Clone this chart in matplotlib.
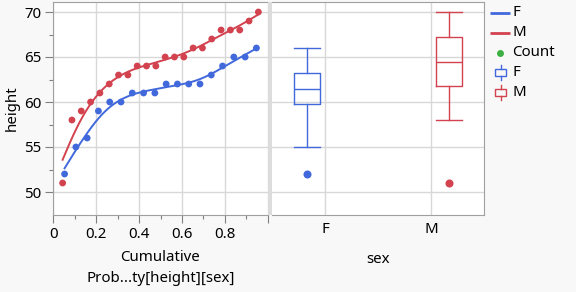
import numpy as np
import matplotlib
matplotlib.use("Agg")
import matplotlib.pyplot as plt
from matplotlib.patches import Rectangle

# ---------------- data ----------------
f_heights = [52, 55, 56, 59, 60, 60, 61, 61, 61, 62, 62, 62, 62, 63, 64, 65, 65, 66]
m_heights = [51, 58, 59, 60, 61, 62, 63, 63, 64, 64, 64, 65, 65, 65, 66, 66, 67, 68, 68, 68, 69, 70]
sexes = ["F", "M"]
x_ticks = [0, 0.2, 0.4, 0.6, 0.8]
x_ticklabels = ["0", "0.2", "0.4", "0.6", "0.8"]
y_ticks = [50, 55, 60, 65, 70]
legend_labels = ["F", "M", "Count", "F", "M"]

BLUE = "#4169dc"
RED = "#d2424f"
GREEN = "#3cb043"
GRID = "#d8d8d8"
FRAME = "#a0a0a0"
BG = "#f8f8f8"

plt.rcParams['font.family'] = ['Noto Sans', 'DejaVu Sans']
FS = 10.8


def cum_prob(vals):
    v = np.sort(np.asarray(vals, float))
    n = len(v)
    return np.arange(1, n + 1) / (n + 1), v


def smoothing_spline(x, y, lam, npts=200):
    x = np.asarray(x, float); y = np.asarray(y, float)
    n = len(x)
    h = np.diff(x)
    Q = np.zeros((n, n - 2))
    R = np.zeros((n - 2, n - 2))
    for j in range(1, n - 1):
        c = j - 1
        Q[j - 1, c] = 1 / h[j - 1]
        Q[j, c] = -1 / h[j - 1] - 1 / h[j]
        Q[j + 1, c] = 1 / h[j]
        R[c, c] = (h[j - 1] + h[j]) / 3
        if c + 1 < n - 2:
            R[c, c + 1] = h[j] / 6
            R[c + 1, c] = h[j] / 6
    K = Q @ np.linalg.solve(R, Q.T)
    g = np.linalg.solve(np.eye(n) + lam * K, y)
    gam_int = np.linalg.solve(R, Q.T @ g)
    gam = np.concatenate([[0], gam_int, [0]])
    t = np.linspace(x[0], x[-1], npts)
    idx = np.clip(np.searchsorted(x, t) - 1, 0, n - 2)
    xi, xi1 = x[idx], x[idx + 1]
    hi = h[idx]
    a = t - xi
    b = xi1 - t
    val = (a * g[idx + 1] + b * g[idx]) / hi - a * b / 6 * (
        (1 + a / hi) * gam[idx + 1] + (1 + b / hi) * gam[idx])
    return t, val


def box_stats(vals, label):
    v = np.sort(np.asarray(vals, float))
    q1, med, q3 = np.percentile(v, [25, 50, 75], method='weibull')
    iqr = q3 - q1
    lo_f, hi_f = q1 - 1.5 * iqr, q3 + 1.5 * iqr
    inside = v[(v >= lo_f) & (v <= hi_f)]
    fl = v[(v < lo_f) | (v > hi_f)]
    return dict(med=med, q1=q1, q3=q3, whislo=inside.min(), whishi=inside.max(),
                fliers=fl, label=label)


W, H = 576, 292
fig = plt.figure(figsize=(W / 100, H / 100), dpi=100, facecolor=BG)


def fx(px):
    return px / W


def fy(py):
    return 1 - py / H


top, bot = 2, 215
axL = fig.add_axes([fx(53.3), fy(bot), fx(267.7 - 53.3), (bot - top) / H])
axR = fig.add_axes([fx(272), fy(bot), fx(484 - 272), (bot - top) / H])

ylim = (50 - 23 / 9, 70 + 10 / 9)

# ---------- left panel ----------
for vals, col in [(f_heights, BLUE), (m_heights, RED)]:
    p, v = cum_prob(vals)
    t, s = smoothing_spline(p, v, 0.0006)
    axL.plot(t, s, color=col, lw=1.4, zorder=3)
    axL.scatter(p, v, s=24, color=col, edgecolors='none', zorder=4)

axL.set_xlim(0, 1.0)
axL.set_ylim(*ylim)
axL.set_xticks(x_ticks + [1.0])
axL.set_xticklabels(x_ticklabels + [""])
axL.set_xticks(np.arange(0.1, 1.0, 0.2), minor=True)
axL.set_yticks(y_ticks)
axL.set_yticks(np.arange(52.5, 70, 5), minor=True)
axL.grid(True, which='major', color=GRID, lw=1.0, zorder=0)
axL.set_axisbelow(True)
axL.tick_params(which='major', length=6, width=0.8, color='#808080', labelsize=FS,
                pad=2.5, labelcolor='black')
axL.tick_params(which='minor', length=3, width=0.8, color='#808080')
for sp in ['left', 'top', 'bottom']:
    axL.spines[sp].set_color(FRAME)
    axL.spines[sp].set_linewidth(0.8)
axL.spines['right'].set_visible(False)
axL.set_ylabel("height", fontsize=FS, labelpad=3.5)
axL.set_xlabel("Cumulative\nProb...ty[height][sex]", fontsize=FS, labelpad=6,
               linespacing=1.5)

# ---------- right panel ----------
stats = [box_stats(f_heights, "F"), box_stats(m_heights, "M")]
positions = [-0.17, 1.17]
for st, pos, col in zip(stats, positions, [BLUE, RED]):
    axR.bxp([st], positions=[pos], widths=0.24, capwidths=0.24, showfliers=True,
            boxprops=dict(color=col, lw=1.0),
            whiskerprops=dict(color=col, lw=1.0),
            capprops=dict(color=col, lw=1.0),
            medianprops=dict(color=col, lw=1.0),
            flierprops=dict(marker='o', markerfacecolor=col, markeredgecolor='none',
                            markersize=5.8),
            manage_ticks=False, zorder=3)
axR.set_xlim(-0.5, 1.5)
axR.set_ylim(*ylim)
axR.set_xticks([0, 1])
axR.set_xticklabels(sexes)
axR.set_yticks(y_ticks)
axR.tick_params(axis='y', length=0, labelleft=False)
axR.tick_params(axis='x', length=0, labelsize=FS, pad=5)
axR.grid(True, color=GRID, lw=1.0, zorder=0)
axR.set_axisbelow(True)
for sp in ['right', 'top', 'bottom']:
    axR.spines[sp].set_color(FRAME)
    axR.spines[sp].set_linewidth(0.8)
axR.spines['left'].set_visible(False)
axR.set_xlabel("sex", fontsize=FS, labelpad=11)

# ---------- overlay for separator and legend (pixel coords) ----------
ov = fig.add_axes([0, 0, 1, 1], facecolor='none')
ov.set_xlim(0, W)
ov.set_ylim(H, 0)
ov.axis('off')
ov.add_patch(Rectangle((267.7, top), 272 - 267.7, bot - top, facecolor='#dcdcdc',
                       edgecolor='none'))

row_y = [12.7, 32.7, 52.7, 72.7, 92.7]
tx = 512
for yy, col in zip(row_y[:2], [BLUE, RED]):
    ov.plot([490, 510], [yy, yy], color=col, lw=2.0, solid_capstyle='butt')
ov.plot([500], [row_y[2]], 'o', color=GREEN, markersize=5, markeredgecolor='none')
for yy, col in zip(row_y[3:], [BLUE, RED]):
    ov.add_patch(Rectangle((495, yy - 3.5), 11, 7, facecolor='none', edgecolor=col, lw=1.0))
    ov.plot([500.5, 500.5], [yy - 7.5, yy - 3.5], color=col, lw=1.0)
    ov.plot([500.5, 500.5], [yy + 3.5, yy + 7.5], color=col, lw=1.0)
for yy, lab in zip(row_y, legend_labels):
    ov.text(tx, yy, lab, fontsize=FS, va='center', ha='left')

fig.savefig("out.png", dpi=100, facecolor=BG)
